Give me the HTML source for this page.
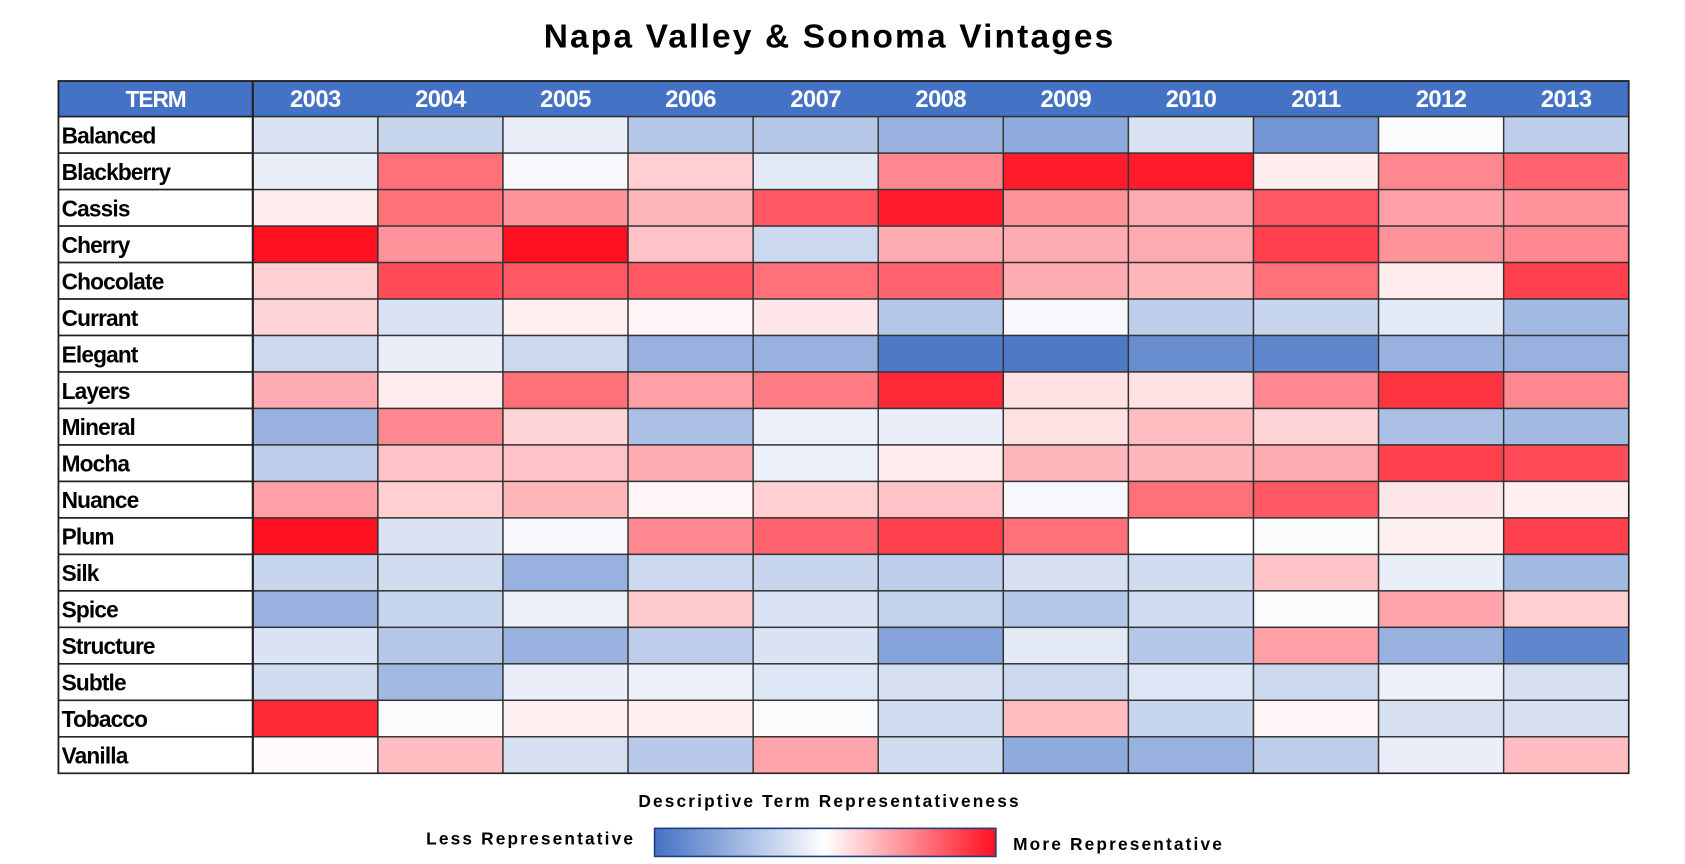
<!DOCTYPE html>
<html><head><meta charset="utf-8">
<style>
html,body{margin:0;padding:0;background:#fff;}
svg{display:block;}
text{font-family:"Liberation Sans Narrow","Liberation Sans",sans-serif;}
.ttl{font-family:"Liberation Sans",sans-serif;font-weight:bold;}
</style></head>
<body>
<svg id="chart" width="1685" height="864" viewBox="0 0 1560 800" xmlns="http://www.w3.org/2000/svg">
<defs>
<linearGradient id="grad" x1="0" x2="1" y1="0" y2="0">
<stop offset="0" stop-color="#4472C4"/>
<stop offset="0.5" stop-color="#ffffff"/>
<stop offset="1" stop-color="#FF1020"/>
</linearGradient>
</defs>
<text class="ttl" x="768" y="44" text-anchor="middle" font-size="31" letter-spacing="2">Napa Valley &amp; Sonoma Vintages</text>
<g id="grid"></g>
<text class="ttl" x="768" y="747" text-anchor="middle" font-size="16" letter-spacing="2">Descriptive Term Representativeness</text>
<text class="ttl" x="588" y="782" text-anchor="end" font-size="16" letter-spacing="2">Less Representative</text>
<rect x="606" y="767" width="316" height="26" fill="url(#grad)" stroke="#1f3f7f" stroke-width="1.5"/>
<text class="ttl" x="938" y="787" font-size="16" letter-spacing="2">More Representative</text>
<line x1="65" x2="1520" y1="802" y2="802" stroke="#ddd" stroke-width="1"/>
</svg>
<script>
const years = ["2003","2004","2005","2006","2007","2008","2009","2010","2011","2012","2013"];
const terms = ["Balanced","Blackberry","Cassis","Cherry","Chocolate","Currant","Elegant","Layers","Mineral","Mocha","Nuance","Plum","Silk","Spice","Structure","Subtle","Tobacco","Vanilla"];
const values = [
[-0.2,-0.3,-0.12,-0.4,-0.4,-0.55,-0.6,-0.2,-0.75,-0.03,-0.35],
[-0.12,0.6,-0.05,0.2,-0.15,0.5,0.95,0.95,0.08,0.5,0.65],
[0.08,0.6,0.45,0.3,0.7,0.95,0.45,0.35,0.7,0.4,0.45],
[1.0,0.45,1.0,0.25,-0.28,0.35,0.35,0.35,0.8,0.45,0.5],
[0.2,0.75,0.7,0.7,0.6,0.65,0.35,0.3,0.6,0.08,0.8],
[0.18,-0.2,0.06,0.04,0.1,-0.4,-0.05,-0.35,-0.3,-0.15,-0.5],
[-0.28,-0.12,-0.28,-0.55,-0.55,-0.95,-0.95,-0.8,-0.85,-0.55,-0.55],
[0.35,0.08,0.6,0.4,0.55,0.9,0.12,0.12,0.5,0.85,0.5],
[-0.55,0.5,0.18,-0.45,-0.1,-0.12,0.12,0.28,0.18,-0.45,-0.5],
[-0.35,0.25,0.25,0.35,-0.1,0.08,0.3,0.3,0.35,0.8,0.75],
[0.4,0.2,0.3,0.04,0.2,0.25,-0.05,0.6,0.7,0.1,0.06],
[1.0,-0.2,-0.05,0.5,0.65,0.8,0.6,0.0,-0.03,0.06,0.8],
[-0.3,-0.25,-0.55,-0.28,-0.3,-0.35,-0.22,-0.25,0.25,-0.12,-0.5],
[-0.55,-0.3,-0.1,0.22,-0.2,-0.32,-0.4,-0.25,-0.03,0.38,0.2],
[-0.2,-0.4,-0.55,-0.35,-0.2,-0.65,-0.15,-0.4,0.4,-0.55,-0.85],
[-0.25,-0.5,-0.12,-0.1,-0.18,-0.22,-0.28,-0.18,-0.28,-0.1,-0.22],
[0.9,-0.03,0.06,0.06,-0.03,-0.25,0.28,-0.3,0.04,-0.22,-0.22],
[0.02,0.28,-0.22,-0.38,0.38,-0.25,-0.6,-0.55,-0.35,-0.12,0.28]
];
const NS="http://www.w3.org/2000/svg";
const g=document.getElementById('grid');
const L=54,R=1508,TC=234,HT=75,HB=108,RH=(716-108)/terms.length;
const CW=(R-TC)/years.length;
function xPos(i){return TC+i*CW;}
function yPos(j){return HB+j*RH;}
function color(v){
  v=Math.max(-1,Math.min(1,v));
  let lo=[68,114,196],hi=[255,16,32],w=[255,255,255];
  let c=v<0?lo:hi,t=Math.abs(v);
  return 'rgb('+w.map((x,k)=>Math.round(x+(c[k]-x)*t)).join(',')+')';
}
function mk(tag,attrs){const e=document.createElementNS(NS,tag);for(const k in attrs)e.setAttribute(k,attrs[k]);g.appendChild(e);return e;}
let h=mk('rect',{x:L,y:HT,width:R-L,height:HB-HT,fill:'#4472C4',stroke:'#222','stroke-width':1.5});


let th=mk('text',{x:(L+TC)/2,y:HB-9,'text-anchor':'middle','font-size':21,'font-weight':'bold',fill:'#fff','letter-spacing':-1});
th.textContent='TERM';


years.forEach((yr,i)=>{
  let t=mk('text',{x:xPos(i)+CW/2,y:HB-9,'text-anchor':'middle','font-size':22,'font-weight':'bold',fill:'#fff','letter-spacing':-0.5});
  t.textContent=yr;
  
  
});
terms.forEach((term,j)=>{
  let r=mk('rect',{x:L,y:yPos(j),width:TC-L,height:RH,fill:'#fff',stroke:'#222','stroke-width':1.5});
  
  
  let t=mk('text',{x:L+3,y:yPos(j)+RH-9,'font-size':21,'font-weight':'bold',fill:'#000','letter-spacing':-0.8});
  t.textContent=term;
  
  
  years.forEach((yr,i)=>{
    let c=mk('rect',{x:xPos(i),y:yPos(j),width:CW,height:RH,fill:color(values[j][i]),stroke:'#333','stroke-width':1.3});
    
    
  });
});
let vl=mk('line',{x1:TC,x2:TC,y1:HT,y2:yPos(terms.length),stroke:'#222','stroke-width':2});


let ob=mk('rect',{x:L,y:HT,width:R-L,height:yPos(terms.length)-HT,fill:'none',stroke:'#222','stroke-width':1.5});


</script>
</body></html>
